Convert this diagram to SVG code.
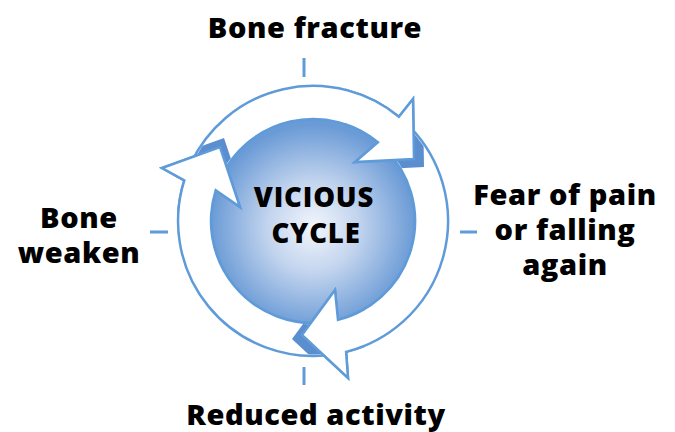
<svg xmlns="http://www.w3.org/2000/svg" xmlns:xlink="http://www.w3.org/1999/xlink" width="675" height="432" viewBox="0 0 675 432">
<style>
.lbl{font-family:"Open Sans","Noto Sans","Liberation Sans",sans-serif;font-weight:800;fill:#000;text-anchor:middle}
.big{font-size:29px;letter-spacing:0.6px}
.mid{font-size:27.5px;letter-spacing:0.8px}
.tick{stroke:#5f9bd8;stroke-width:3;fill:none}
.arr{fill:#fff;stroke:#5f9bd8;stroke-width:2.5;stroke-linejoin:miter}
.shd{fill:#5a8ecf}
</style>
<defs>
<radialGradient id="g" cx="0.5" cy="0.53" r="0.5">
<stop offset="0" stop-color="#f2f6fc"/>
<stop offset="0.45" stop-color="#c2d4ee"/>
<stop offset="1" stop-color="#6b9bd6"/>
</radialGradient>
<clipPath id="ann"><path clip-rule="evenodd" d="M179.5,221a133.5,133.5 0 1 0 267,0a133.5,133.5 0 1 0 -267,0ZM209.5,221a103.5,103.5 0 1 0 207,0a103.5,103.5 0 1 0 -207,0Z"/></clipPath>
<clipPath id="h1"><rect x="345" y="85" width="95" height="100"/></clipPath>
<clipPath id="h2"><rect x="280" y="275" width="85" height="120"/></clipPath>
<clipPath id="h3"><rect x="150" y="130" width="100" height="85"/></clipPath>
</defs>
<g id="ticks">
<line class="tick" x1="304" y1="58" x2="304" y2="77"/>
<line class="tick" x1="304" y1="367" x2="304" y2="385"/>
<line class="tick" x1="150" y1="232" x2="168" y2="232"/>
<line class="tick" x1="460" y1="232" x2="477" y2="232"/>
</g>
<g id="center">
<circle cx="313" cy="221" r="102" fill="url(#g)" stroke="#5f9bd8" stroke-width="2.5"/>
<text class="lbl mid"><tspan x="314" y="207">VICIOUS</tspan><tspan x="316" y="243">CYCLE</tspan></text>
</g>
<g id="connectors">
<path id="a1" class="arr" d="M190.6,163.9A135,135 0 0 1 398.9,116.8L413,99L414,159L355,162L377.9,142.3A102,102 0 0 0 220.6,177.9Z"/>
<path id="a2" class="arr" d="M410.1,127.2A135,135 0 0 1 346.1,351.9L348,378L302,335L335,290L338,319.9A102,102 0 0 0 386.4,150.1Z"/>
<path id="a3" class="arr" d="M327.1,355.3A135,135 0 0 1 184.3,180.4L162,168L220,147L240,207L215.7,190.3A102,102 0 0 0 323.7,322.4Z"/>
<g clip-path="url(#ann)">
<polygon class="shd" points="423,107 424,167 365,170"/>
<polygon class="shd" points="338,382 292,339 325,294"/>
<polygon class="shd" points="166,159 224,138 244,198"/>
</g>
<use xlink:href="#a1" clip-path="url(#h1)"/>
<use xlink:href="#a2" clip-path="url(#h2)"/>
<use xlink:href="#a3" clip-path="url(#h3)"/>
</g>
<g id="n-fracture"><text class="lbl big" x="315" y="38">Bone fracture</text></g>
<g id="n-fear"><text class="lbl big"><tspan x="565" y="205">Fear of pain</tspan><tspan x="565" y="240">or falling</tspan><tspan x="565" y="275">again</tspan></text></g>
<g id="n-weaken"><text class="lbl big"><tspan x="79" y="228">Bone</tspan><tspan x="79" y="263">weaken</tspan></text></g>
<g id="n-reduced"><text class="lbl big" x="316" y="425">Reduced activity</text></g>
</svg>
